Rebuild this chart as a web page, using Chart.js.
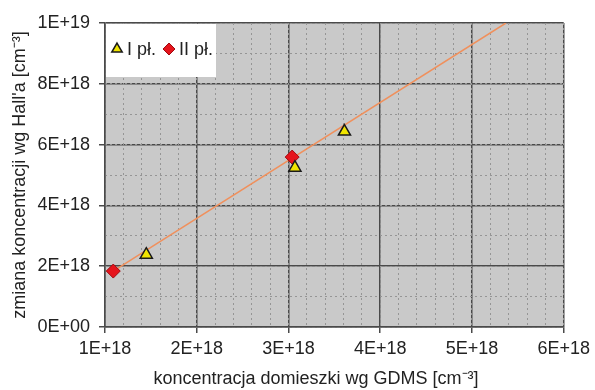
<!DOCTYPE html>
<html>
<head>
<meta charset="utf-8">
<script src="https://cdn.jsdelivr.net/npm/chart.js@4"></script>
<style>
  html, body { margin: 0; padding: 0; background: #ffffff; }
  #wrap { width: 595px; height: 390px; }
</style>
</head>
<body>
<div id="wrap"><canvas id="c" width="595" height="390"></canvas></div>
<script>
// Measurement series: GDMS dopant concentration vs. Hall concentration change
const seriesIx = [1.45e18, 3.07e18, 3.61e18];
const seriesIy = [2.38e18, 5.24e18, 6.43e18];
const seriesIIx = [1.09e18, 3.04e18];
const seriesIIy = [1.84e18, 5.59e18];
// Linear trend drawn across the data
const trendX = [1.09e18, 5.37e18];
const trendY = [1.84e18, 1.0e19];

const xTickValues = [1e18, 2e18, 3e18, 4e18, 5e18, 6e18];
const xTickLabels = ['1E+18', '2E+18', '3E+18', '4E+18', '5E+18', '6E+18'];
const yTickValues = [0, 2e18, 4e18, 6e18, 8e18, 1e19];
const yTickLabels = ['0E+00', '2E+18', '4E+18', '6E+18', '8E+18', '1E+19'];

const seriesNames = ['I pł.', 'II pł.'];
const xTitle = 'koncentracja domieszki wg GDMS [cm⁻³]';
const yTitle = 'zmiana koncentracji wg Hall\'a [cm⁻³]';

const FONT = "'Liberation Sans', Arial, sans-serif";
const TEXT = '#222222';
const toPts = (xs, ys) => xs.map((x, i) => ({ x: x, y: ys[i] }));

function labelFor(values, labels, v) {
  const i = values.findIndex(t => Math.abs(t - v) < 1e15);
  return i >= 0 ? labels[i] : '';
}

// Gray plot background
const plotBg = {
  id: 'plotBg',
  beforeDraw(chart) {
    const a = chart.chartArea, ctx = chart.ctx;
    ctx.save();
    ctx.fillStyle = '#c9c9c9';
    ctx.fillRect(a.left, a.top, a.right - a.left, a.bottom - a.top);
    ctx.restore();
  }
};

// X axis caption, set slightly left of the plot centre
const xCaption = {
  id: 'xCaption',
  afterDraw(chart) {
    const ctx = chart.ctx;
    ctx.save();
    ctx.font = '18px ' + FONT;
    ctx.fillStyle = TEXT;
    ctx.textAlign = 'center';
    ctx.textBaseline = 'middle';
    ctx.fillText(xTitle, 316, 379);
    ctx.restore();
  }
};

// Legend box in the upper-left corner of the plot
const innerLegend = {
  id: 'innerLegend',
  afterDraw(chart) {
    const a = chart.chartArea, ctx = chart.ctx;
    const x0 = a.left + 1, y0 = a.top + 1, w = 110, h = 53;
    ctx.save();
    ctx.fillStyle = '#ffffff';
    ctx.fillRect(x0, y0, w, h);
    ctx.font = '18px ' + FONT;
    ctx.textBaseline = 'middle';
    const cy = y0 + 25;
    const ds = chart.data.datasets;
    let x = x0 + 11;
    for (let i = 0; i < 2; i++) {
      const d = ds[i];
      ctx.fillStyle = d.backgroundColor;
      ctx.strokeStyle = d.borderColor;
      ctx.lineWidth = d.borderWidth;
      Chart.helpers.drawPoint(ctx, { pointStyle: d.pointStyle, radius: 6, borderWidth: d.borderWidth }, x, cy);
      ctx.fillStyle = TEXT;
      ctx.fillText(seriesNames[i], x + 10, cy + 1);
      x += 10 + ctx.measureText(seriesNames[i]).width + 13;
    }
    ctx.restore();
  }
};

new Chart(document.getElementById('c'), {
  type: 'scatter',
  data: {
    datasets: [
      {
        label: seriesNames[0],
        data: toPts(seriesIx, seriesIy),
        pointStyle: 'triangle',
        radius: 7,
        backgroundColor: '#f0e400',
        borderColor: '#1a1a1a',
        borderWidth: 1.5,
        order: 1
      },
      {
        label: seriesNames[1],
        data: toPts(seriesIIx, seriesIIy),
        pointStyle: 'rectRot',
        radius: 7,
        backgroundColor: '#e5141c',
        borderColor: '#a00a10',
        borderWidth: 1,
        order: 2
      },
      {
        label: 'trend',
        type: 'line',
        data: toPts(trendX, trendY),
        borderColor: '#f0905c',
        borderWidth: 1.5,
        pointRadius: 0,
        fill: false,
        order: 3
      }
    ]
  },
  options: {
    responsive: false,
    animation: false,
    layout: { padding: { top: 23, right: 29, bottom: 0, left: 0 } },
    plugins: { legend: { display: false }, tooltip: { enabled: false } },
    scales: {
      x: {
        type: 'linear',
        min: 1e18, max: 6e18,
        afterBuildTicks(s) { s.ticks = xTickValues.map(v => ({ value: v })); },
        afterFit(s) { s.height = 63; },
        ticks: {
          font: { family: FONT, size: 18 },
          color: TEXT,
          padding: 5,
          maxRotation: 0,
          callback: v => labelFor(xTickValues, xTickLabels, v)
        },
        grid: { color: '#4a4a4a', lineWidth: 1.5, tickLength: 6 },
        border: { color: '#4a4a4a', width: 1.5 }
      },
      y: {
        type: 'linear',
        min: 0, max: 1e19,
        afterBuildTicks(s) { s.ticks = yTickValues.map(v => ({ value: v })); },
        afterFit(s) { s.width = 105; },
        ticks: {
          font: { family: FONT, size: 18 },
          color: TEXT,
          padding: 9,
          callback: v => labelFor(yTickValues, yTickLabels, v)
        },
        grid: { color: '#4a4a4a', lineWidth: 1.5, tickLength: 6 },
        border: { color: '#4a4a4a', width: 1.5 },
        title: {
          display: true,
          text: yTitle,
          font: { family: FONT, size: 18 },
          color: TEXT,
          padding: { top: 9, bottom: 0 }
        }
      },
      xMinor: {
        type: 'linear',
        position: 'bottom',
        min: 1e18, max: 6e18,
        z: -1,
        afterFit(s) { s.height = 0; },
        ticks: { display: false, stepSize: 2e17 },
        grid: { color: '#959595', lineWidth: 1, drawTicks: false },
        border: { display: false, dash: [2, 3] }
      },
      yMinor: {
        type: 'linear',
        position: 'left',
        min: 0, max: 1e19,
        z: -1,
        afterFit(s) { s.width = 0; },
        ticks: { display: false, stepSize: 1e18 },
        grid: { color: '#959595', lineWidth: 1, drawTicks: false },
        border: { display: false, dash: [2, 3] }
      }
    }
  },
  plugins: [plotBg, innerLegend, xCaption]
});
</script>
</body>
</html>
